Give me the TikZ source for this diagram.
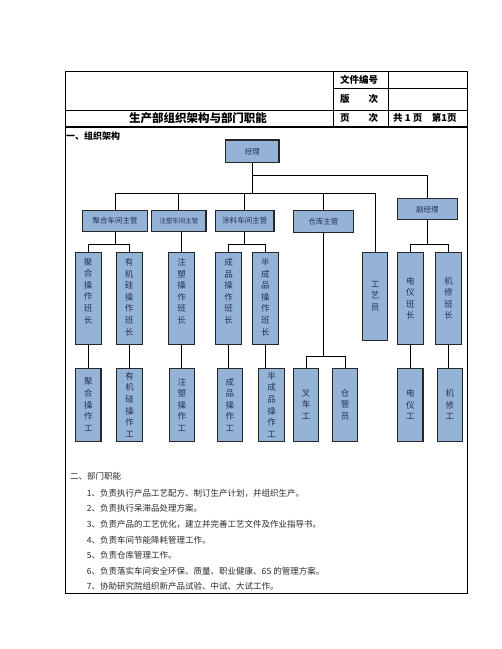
\documentclass[tikz,border=0pt]{standalone}
\usepackage{fontspec}
\setmainfont{Noto Sans CJK SC}
\definecolor{boxfill}{RGB}{149,179,215}
\definecolor{boxtext}{RGB}{35,50,85}
\definecolor{bodytext}{RGB}{40,40,40}
\newcommand{\colstack}[2]{\parbox[c][#1][t]{10pt}{\centering #2}}
\tikzset{
  orgbox/.style={draw=black!85, line width=1.1pt, fill=boxfill, text=boxtext,
    inner sep=0pt, align=center, font=\fontsize{7.5}{9}\selectfont},
  vbox/.style={orgbox, font=\fontsize{8.5}{11.6}\selectfont},
  lead/.style={vbox, minimum width=26pt, minimum height=92pt},
  work/.style={vbox, minimum width=25.4pt, minimum height=72.7pt},
  head/.style={orgbox, minimum height=21pt},
  link/.style={draw=black, line width=0.9pt},
  tbl/.style={line width=0.8pt},
  cell/.style={anchor=west, inner sep=0pt, font=\bfseries\fontsize{9.5}{11}\selectfont},
  duty/.style={anchor=west, inner sep=0pt, text=bodytext, font=\fontsize{8.5}{10}\selectfont}
}
\begin{document}
\begin{tikzpicture}[x=1pt,y=-1pt]
	\useasboundingbox (0,0) rectangle (502,649);
	% table head
	\draw[tbl] (65,71) rectangle (467,593);
	\draw[tbl] (333,71) -- (333,126.7);
	\draw[tbl] (388,71) -- (388,126.7);
	\draw[tbl] (333,88.3) -- (467,88.3);
	\draw[tbl] (65,110) -- (467,110);
	\draw[line width=2pt] (65,126.7) -- (467,126.7);
	\node[cell] (bh) at (340,80) {文件编号};
	\node[cell] (bc) at (340,99) {版　　次};
	\node[cell] (yc) at (340,118) {页　　次};
	\node[cell] (ys) at (393,118) {共 1 页　第1页};
	\node[cell, anchor=center, font=\bfseries\fontsize{11.5}{13}\selectfont] (title) at (198,118) {生产部组织架构与部门职能};
	\node[cell, font=\bfseries\fontsize{9}{11}\selectfont] (s1) at (66,136) {一、组织架构};

	% org chart
	\node[head, minimum width=53.3pt, minimum height=22.7pt] (jl) at (252.3,151.3) {经理};
	\node[head, minimum width=60pt] (fjl) at (427.3,209.2) {副经理};
	\node[head, minimum width=65pt] (zg1) at (115,221) {聚合车间主管};
	\node[head, minimum width=54.3pt, font=\fontsize{6.5}{8}\selectfont] (zg2) at (178.8,221) {注塑车间主管};
	\node[head, minimum width=58.3pt] (zg3) at (244.8,221) {涂料车间主管};
	\node[head, minimum width=60pt, minimum height=21.6pt] (zg4) at (323.3,221.5) {仓库主管};
	\node[vbox, minimum width=24.6pt, minimum height=87.7pt] (gyy) at (375,296.2) {工\\艺\\员};

	\node[lead] (bz1) at (88.2,298.3) {\colstack{80pt}{聚\\合\\操\\作\\班\\长}};
	\node[lead] (bz2) at (129.2,298.3) {\colstack{80pt}{有\\机\\硅\\操\\作\\班\\长}};
	\node[lead] (bz3) at (181.7,298.3) {\colstack{80pt}{注\\塑\\操\\作\\班\\长}};
	\node[lead] (bz4) at (228.7,298.3) {\colstack{80pt}{成\\品\\操\\作\\班\\长}};
	\node[lead] (bz5) at (265.3,298.3) {\colstack{80pt}{半\\成\\品\\操\\作\\班\\长}};
	\node[lead] (bz6) at (410.3,298.3) {电\\仪\\班\\长};
	\node[lead] (bz7) at (448.7,298.3) {机\\修\\班\\长};

	\node[work] (wk1) at (88.3,404.7) {聚\\合\\操\\作\\工};
	\node[work] (wk2) at (129.5,404.7) {有\\机\\硅\\操\\作\\工};
	\node[work] (wk3) at (181.8,404.7) {注\\塑\\操\\作\\工};
	\node[work] (wk4) at (229.8,404.7) {成\\品\\操\\作\\工};
	\node[work] (wk5) at (271.5,404.7) {半\\成\\品\\操\\作\\工};
	\node[work] (wk6) at (306.2,404.7) {叉\\车\\工};
	\node[work] (wk7) at (345,404.7) {仓\\管\\员};
	\node[work] (wk8) at (410.3,404.7) {电\\仪\\工};
	\node[work] (wk9) at (449.8,404.7) {机\\修\\工};

	% connectors
	\coordinate (bus) at (0,193.3);
	\coordinate (fk) at (0,175);
	\coordinate (j1) at (0,244.3);
	\coordinate (j2) at (0,356.7);
	\draw[link] (jl.south) -- (jl.south |- bus);
	\draw[link] (jl.south |- fk) -- (fjl.north |- fk) -- (fjl.north);
	\draw[link] (zg1.north) -- (zg1.north |- bus) -- (gyy.north |- bus) -- (gyy.north);
	\draw[link] (zg2.north) -- (zg2.north |- bus);
	\draw[link] (zg3.north) -- (zg3.north |- bus);
	\draw[link] (zg4.north) -- (zg4.north |- bus);

	\draw[link] (zg1.south) -- (zg1.south |- j1);
	\draw[link] (bz1.north) -- (bz1.north |- j1) -- (bz2.north |- j1) -- (bz2.north);
	\draw[link] (bz3.north |- zg2.south) -- (bz3.north);
	\draw[link] (zg3.south) -- (zg3.south |- j1);
	\draw[link] (bz4.north) -- (bz4.north |- j1) -- (bz5.north |- j1) -- (bz5.north);
	\draw[link] (fjl.south) -- (fjl.south |- j1);
	\draw[link] (bz6.north) -- (bz6.north |- j1) -- (bz7.north |- j1) -- (bz7.north);

	\draw[link] (bz1.south) -- (bz1.south |- wk1.north);
	\draw[link] (bz2.south) -- (bz2.south |- wk2.north);
	\draw[link] (bz3.south) -- (bz3.south |- wk3.north);
	\draw[link] (bz4.south) -- (bz4.south |- wk4.north);
	\draw[link] (bz5.south) -- (bz5.south |- wk5.north);
	\draw[link] (bz6.south) -- (bz6.south |- wk8.north);
	\draw[link] (bz7.south) -- (bz7.south |- wk9.north);
	\draw[link] (zg4.south) -- (zg4.south |- j2);
	\draw[link] (wk6.north) -- (wk6.north |- j2) -- (wk7.north |- j2) -- (wk7.north);

	% duties
	\node[duty] (s2) at (70,476.7) {二、部门职能};
	\node[duty] (d1) at (86.7,493.3) {1、负责执行产品工艺配方、制订生产计划，并组织生产。};
	\node[duty] (d2) at (86.7,508.7) {2、负责执行呆滞品处理方案。};
	\node[duty] (d3) at (86.7,524.3) {3、负责产品的工艺优化，建立并完善工艺文件及作业指导书。};
	\node[duty] (d4) at (86.7,540) {4、负责车间节能降耗管理工作。};
	\node[duty] (d5) at (86.7,555.7) {5、负责仓库管理工作。};
	\node[duty] (d6) at (86.7,571.3) {6、负责落实车间安全环保、质量、职业健康、6S 的管理方案。};
	\node[duty] (d7) at (86.7,586.7) {7、协助研究院组织新产品试验、中试、大试工作。};
\end{tikzpicture}
\end{document}
